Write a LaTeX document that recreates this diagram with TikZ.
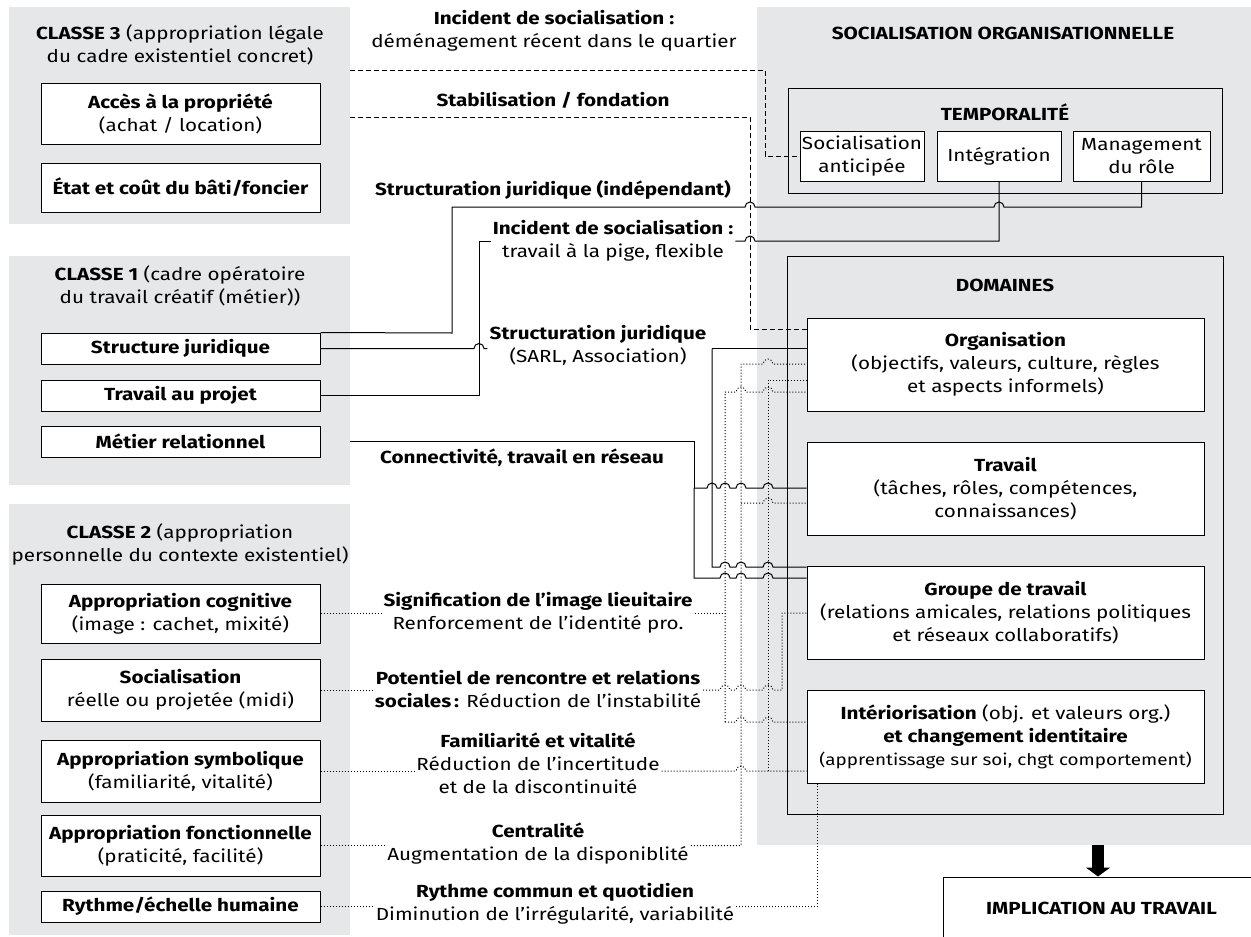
\documentclass[tikz,border=0pt]{standalone}
\usepackage{fontspec}
\setmainfont[FakeStretch=1.18]{Fira Sans}
\usetikzlibrary{arrows.meta}
\definecolor{panelgray}{HTML}{E6E7E8}
\tikzstyle{panel}=[rectangle, fill=panelgray, inner sep=0pt]
\tikzstyle{item}=[rectangle, draw, fill=white, line width=1pt, minimum width=279pt, inner sep=0pt, align=center]
\tikzstyle{boxframe}=[rectangle, draw, line width=1pt, inner sep=0pt]
\tikzstyle{lbl}=[align=center, inner sep=2pt]
\tikzstyle{conn}=[line width=1pt]
\tikzstyle{dashconn}=[line width=1pt, dash pattern=on 5pt off 3pt]
\tikzstyle{dotconn}=[line width=1pt, dash pattern=on 1pt off 2pt]
% hop over a crossing line (horizontal, left to right)
\newcommand{\hop}[2]{-- ({#1-5},#2) arc[start angle=180, end angle=0, radius=5pt]}

\begin{document}
\begin{tikzpicture}[x=1pt, y=-1pt, font=\fontsize{17.5}{23}\selectfont]
    \useasboundingbox (0,0) rectangle (1251,937);
    % panels
    \node[panel, minimum width=341pt, minimum height=217pt] (cl3) at (179.5,115.5) {};
    \node[panel, minimum width=341pt, minimum height=229pt] (cl1) at (179.5,370.5) {};
    \node[panel, minimum width=341pt, minimum height=431pt] (cl2) at (179.5,719.5) {};
    \node[panel, minimum width=494pt, minimum height=838pt] (soc) at (1004,426) {};

    % classe 3
    \node[lbl] (t3) at (180,45) {\textbf{CLASSE 3} (appropriation légale\\du cadre existentiel concret)};
    \node[item, minimum height=61pt] (acces) at (180.5,113.5) {\textbf{Accès à la propriété}\\(achat / location)};
    \node[item, minimum height=49pt] (etat) at (180.5,187.5) {\textbf{État et coût du bâti/foncier}};

    % classe 1
    \node[lbl] (t1) at (180,286) {\textbf{CLASSE 1} (cadre opératoire\\du travail créatif (métier))};
    \node[item, minimum height=31pt] (sj) at (180.5,348.5) {\textbf{Structure juridique}};
    \node[item, minimum height=31pt] (tp) at (180.5,395.5) {\textbf{Travail au projet}};
    \node[item, minimum height=31pt] (mr) at (180.5,441.5) {\textbf{Métier relationnel}};

    % classe 2
    \node[lbl] (t2) at (180,544) {\textbf{CLASSE 2} (appropriation\\personnelle du contexte existentiel)};
    \node[item, minimum height=59pt] (ac) at (180.5,613.5) {\textbf{Appropriation cognitive}\\(image : cachet, mixité)};
    \node[item, minimum height=62pt] (so) at (180.5,690) {\textbf{Socialisation}\\réelle ou projetée (midi)};
    \node[item, minimum height=62pt] (asym) at (180.5,771) {\textbf{Appropriation symbolique}\\(familiarité, vitalité)};
    \node[item, minimum height=61pt] (af) at (180.5,845.5) {\textbf{Appropriation fonctionnelle}\\(praticité, facilité)};
    \node[item, minimum height=31pt] (ry) at (180.5,906.5) {\textbf{Rythme/échelle humaine}};

    % socialisation organisationnelle
    \node[lbl] (ts) at (1003,33) {\textbf{SOCIALISATION ORGANISATIONNELLE}};
    \node[boxframe, minimum width=434pt, minimum height=105pt] (temp) at (1005,140.5) {};
    \node[lbl] (ttemp) at (1005,112) {\textbf{TEMPORALITÉ}};
    \node[item, minimum width=124pt, minimum height=50pt] (sa) at (862,156) {Socialisation\\anticipée};
    \node[item, minimum width=124pt, minimum height=50pt] (integ) at (999,156) {Intégration};
    \node[item, minimum width=137pt, minimum height=50pt] (mgr) at (1141.5,156) {Management\\du rôle};

    \node[boxframe, minimum width=436pt, minimum height=558pt] (dom) at (1005,535) {};
    \node[lbl] (tdom) at (1005,285) {\textbf{DOMAINES}};
    \node[item, minimum width=397pt, minimum height=93pt] (org) at (1005.5,364.5) {\textbf{Organisation}\\(objectifs, valeurs, culture, règles\\et aspects informels)};
    \node[item, minimum width=397pt, minimum height=93pt] (trav) at (1005.5,488.5) {\textbf{Travail}\\(tâches, rôles, compétences,\\connaissances)};
    \node[item, minimum width=397pt, minimum height=93pt] (grp) at (1005.5,612.5) {\textbf{Groupe de travail}\\(relations amicales, relations politiques\\et réseaux collaboratifs)};
    \node[item, minimum width=397pt, minimum height=93pt] (inter) at (1005.5,736.5) {\textbf{Intériorisation} (obj. et valeurs org.)\\\textbf{et changement identitaire}\\{\fontsize{16}{23}\selectfont(apprentissage sur soi, chgt comportement)}};

    \node[item, minimum width=317pt, minimum height=62pt] (impl) at (1101.5,908) {\textbf{IMPLICATION AU TRAVAIL}};
    \draw[line width=12pt, -{Triangle[width=24pt, length=9pt]}] (soc.south -| 1098,0) -- (impl.north -| 1098,0);

    % labels
    \node[lbl] (linc1) at (554,31) {\textbf{Incident de socialisation :}\\déménagement récent dans le quartier};
    \node[lbl] (lstab) at (553,100) {\textbf{Stabilisation / fondation}};
    \node[lbl] (lstrind) at (553,190) {\textbf{Structuration juridique (indépendant)}};
    \node[lbl] (linc2) at (613,241) {\textbf{Incident de socialisation :}\\travail à la pige, flexible};
    \node[lbl] (lstrjur) at (598,345) {\textbf{Structuration juridique}\\(SARL, Association)};
    \node[lbl] (lconn) at (522,458) {\textbf{Connectivité, travail en réseau}};
    \node[lbl] (lsig) at (538,613) {\textbf{Signification de l’image lieuitaire}\\Renforcement de l’identité pro.};
    \node[lbl] (lpot) at (538,689) {\textbf{Potentiel de rencontre et relations}\\\textbf{sociales\,:} Réduction de l’instabilité};
    \node[lbl] (lfam) at (538,763) {\textbf{Familiarité et vitalité}\\Réduction de l’incertitude\\et de la discontinuité};
    \node[lbl] (lcen) at (538,844) {\textbf{Centralité}\\Augmentation de la disponiblité};
    \node[lbl] (lryt) at (555,904) {\textbf{Rythme commun et quotidien}\\Diminution de l’irrégularité, variabilité};

    % dashed links
    \draw[dashconn] (cl3.east |- 0,70) -- (765,70) |- (sa.west);
    \draw[dashconn] (cl3.east |- 0,117) -- (750,117) -- (750,329) -- (org.west |- 0,329);

    % solid links
    \draw[conn] (sj.north east) -- (452,333) -- (452,207) \hop{750}{207} \hop{999}{207} -| (mgr.south);
    \draw[conn] (tp.east) -- (479,395.5) |- (linc2.west);
    \draw[conn] (linc2.east) \hop{750}{241} -| (integ.south);
    \draw[conn] (sj.east) \hop{479}{348.5} -- (lstrjur.west |- sj.east);
    \coordinate (jsj) at (712,348.5);
    \draw[conn] (jsj) -- (org.west |- jsj);
    \draw[conn] (jsj) -- (712,567) \hop{725}{567} \hop{741}{567} \hop{768}{567} -- (grp.west |- 0,567);
    \coordinate (jmr) at (694,488);
    \draw[conn] (cl1.east |- mr.east) -- (694,441.5) -- (jmr);
    \draw[conn] (jmr) \hop{712}{488} \hop{725}{488} \hop{741}{488} \hop{768}{488} -- (trav.west |- jmr);
    \draw[conn] (jmr) -- (694,578) \hop{725}{578} \hop{741}{578} \hop{768}{578} -- (grp.west |- 0,578);

    % dotted links
    \draw[dotconn] (ac.east) -- (lsig.west |- ac.east);
    \draw[dotconn] (lsig.east |- ac.east) -- (725,613.5);
    \draw[dotconn] (725,722) -- (725,392) \hop{741}{392} \hop{768}{392} -- (org.west |- 0,392);
    \draw[dotconn] (725,722) \hop{741}{722} \hop{768}{722} -- (inter.west |- 0,722);
    \draw[dotconn] (so.east) -- (lpot.west |- so.east);
    \draw[dotconn] (lpot.east |- so.east) \hop{725}{690} \hop{741}{690} \hop{768}{690} -- (782,690) |- (grp.west |- 0,613);
    \draw[dotconn] (asym.east) -- (lfam.west |- asym.east);
    \draw[dotconn] (lfam.east |- asym.east) \hop{741}{771} -- (inter.west |- asym.east);
    \draw[dotconn] (768,771) -- (768,380) -- (org.west |- 0,380);
    \draw[dotconn] (af.east) -- (lcen.west |- af.east);
    \draw[dotconn] (lcen.east |- af.east) -- (741,845.5) -- (741,364) \hop{768}{364} -- (org.west |- 0,364);
    \draw[dotconn] (741,503) \hop{768}{503} -- (trav.west |- 0,503);
    \draw[dotconn] (ry.east) -- (lryt.west |- ry.east);
    \draw[dotconn] (lryt.east |- ry.east) -| ([xshift=11pt]inter.south west);
\end{tikzpicture}
\end{document}
